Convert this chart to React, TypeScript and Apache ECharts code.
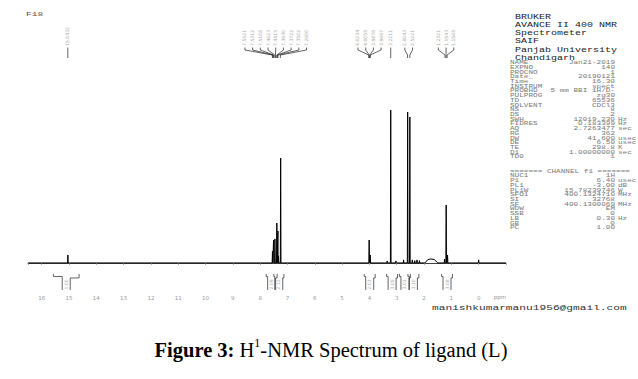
import React, { useEffect, useRef } from "react";
import * as echarts from "echarts";

// ---- spectrum data (ppm, relative intensity; tallest = 100) ----
const peakPpm = [15.04, 7.55, 7.51, 7.46, 7.39, 7.35, 7.33, 7.25, 4.01, 3.97, 3.35, 3.22, 3.03, 2.75, 2.6, 2.52, 2.43, 2.34, 2.26, 2.17, 1.25, 1.19, 1.14, 0.0];
const peakHeight = [5.2, 7.8, 15.0, 15.7, 26.1, 20.9, 4.6, 68.6, 15.0, 5.2, 1.3, 100, 1.3, 2.0, 98.7, 95.4, 2.0, 1.5, 2.0, 1.5, 2.6, 37.9, 5.2, 2.0];
const humpPpm = [1.97, 1.86, 1.75, 1.62, 1.5];
const humpInt = [0, 2.2, 2.6, 2.2, 0];

// ---- peak pick labels ----
const labelPpm = [15.0432, 7.5521, 7.5312, 7.5108, 7.4623, 7.4415, 7.393, 7.3722, 7.3502, 7.26, 4.0234, 4.0055, 3.9876, 3.9697, 3.2211, 2.6043, 2.5221, 1.2321, 1.1943, 1.1565];
const labelGroup = [0, 1, 1, 1, 1, 1, 1, 1, 1, 1, 2, 2, 2, 2, 3, 4, 4, 5, 5, 5];

// ---- integrals ----
const integralLeft = [15.57, 7.78, 7.5, 4.19, 3.37, 2.9, 2.59, 1.36];
const integralRight = [14.63, 7.38, 7.13, 3.79, 2.97, 2.5, 2.19, 0.96];
const integralCenter = [15.1, 7.58, 7.32, 3.99, 3.17, 2.7, 2.39, 1.16];
const integralValue = ["1.00", "2.09", "2.12", "2.03", "3.05", "3.01", "3.10", "3.08"];

// ---- axis ----
const xMin = -1;
const xMax = 16.5;

// ---- parameter block ----
const headerLines = ["BRUKER", "AVANCE II 400 NMR", "Spectrometer", "SAIF", "Panjab University", "Chandigarh"];
const paramNames = ["NAME", "EXPNO", "PROCNO", "Date_", "Time", "INSTRUM", "PROBHD", "PULPROG", "TD", "SOLVENT", "NS", "DS", "SWH", "FIDRES", "AQ", "RG", "DW", "DE", "TE", "D1", "TD0", "", "", "", "NUC1", "P1", "PL1", "PL1W", "SFO1", "SI", "SF", "WDW", "SSB", "LB", "GB", "PC"];
const paramValues = ["Jan21-2019", "140", "1", "20190121", "16.30", "spect", "5 mm BBI 1H/D-", "zg30", "65536", "CDCl3", "8", "2", "12019.230", "0.183399", "2.7263477", "362", "41.600", "6.50", "298.8", "1.00000000", "1", "", "", "", "1H", "6.40", "-3.00", "15.78239746", "400.1324710", "32768", "400.1300069", "EM", "0", "0.30", "0", "1.00"];
const paramUnits = ["", "", "", "", "", "", "", "", "", "", "", "", "Hz", "Hz", "sec", "", "usec", "usec", "K", "sec", "", "", "", "", "", "usec", "dB", "W", "MHz", "", "MHz", "", "", "Hz", "", ""];
const channelLine = "======= CHANNEL f1 =======";
const emailText = "manishkumarmanu1956@gmail.com";
const cornerText = "F18";

function buildTrace(): [number, number][] {
  const pts: [number, number][] = [[xMax, 0], [xMin, 0]];
  peakPpm.forEach((p, i) => {
    pts.push([p + 0.012, 0], [p, peakHeight[i]], [p - 0.012, 0]);
  });
  humpPpm.forEach((p, i) => pts.push([p, humpInt[i]]));
  pts.sort((a, b) => b[0] - a[0]);
  return pts;
}

const groupIdx: number[] = [];
const groupSize: number[] = [];
const groupCenter: number[] = [];
(() => {
  const counts: Record<number, number> = {};
  const sums: Record<number, number> = {};
  labelGroup.forEach((g, i) => {
    groupIdx.push(counts[g] || 0);
    counts[g] = (counts[g] || 0) + 1;
    sums[g] = (sums[g] || 0) + labelPpm[i];
  });
  labelGroup.forEach((g) => {
    groupSize.push(counts[g]);
    groupCenter.push(sums[g] / counts[g]);
  });
})();

export default function App() {
  const ref = useRef<HTMLDivElement>(null);

  useEffect(() => {
    if (!ref.current) return;
    const chart = echarts.init(ref.current, null, { renderer: "svg" });

    const canvas = document.createElement("canvas");
    const ctx = canvas.getContext("2d")!;
    const measure = (font: string, s: string) => {
      ctx.font = font;
      return ctx.measureText(s).width;
    };

    const mono = "Liberation Mono";
    const serif = "Liberation Serif";
    const graphics: any[] = [];
    const pFont = 7.7;
    const pFill = "#777";

    graphics.push({
      type: "text",
      x: 26,
      y: 14,
      scaleY: 0.6,
      style: { text: cornerText, fontSize: 9.5, fontFamily: mono, fill: "#555", align: "left", verticalAlign: "middle" },
    });

    headerLines.forEach((t, i) => {
      graphics.push({
        type: "text",
        x: 515,
        y: 16.5 + i * 8.2,
        scaleY: 0.8,
        style: { text: t, fontSize: 10, fontFamily: mono, fill: "#222", align: "left", verticalAlign: "middle" },
      });
    });

    const rowY = (i: number) => 63 + i * 4.72;
    paramNames.forEach((n, i) => {
      if (n) {
        graphics.push({
          type: "text", x: 510, y: rowY(i), scaleY: 0.58,
          style: { text: n, fontSize: pFont, fontFamily: mono, fill: pFill, align: "left", verticalAlign: "middle" },
        });
      }
      if (paramValues[i]) {
        graphics.push({
          type: "text", x: 615, y: rowY(i), scaleY: 0.58,
          style: { text: paramValues[i], fontSize: pFont, fontFamily: mono, fill: pFill, align: "right", verticalAlign: "middle" },
        });
      }
      if (paramUnits[i]) {
        graphics.push({
          type: "text", x: 618, y: rowY(i), scaleY: 0.58,
          style: { text: paramUnits[i], fontSize: pFont, fontFamily: mono, fill: pFill, align: "left", verticalAlign: "middle" },
        });
      }
    });
    graphics.push({
      type: "text", x: 510, y: rowY(23), scaleY: 0.58,
      style: { text: channelLine, fontSize: pFont, fontFamily: mono, fill: pFill, align: "left", verticalAlign: "middle" },
    });

    graphics.push({
      type: "text", x: 432, y: 308, scaleY: 0.65,
      style: { text: emailText, fontSize: 11.2, fontFamily: mono, fill: "#333", align: "left", verticalAlign: "middle" },
    });

    graphics.push({
      type: "text", x: 500, y: 297,
      style: { text: "ppm", fontSize: 5.5, fontFamily: "DejaVu Sans", fill: "#999", align: "center", verticalAlign: "middle" },
    });

    // caption
    const fs = 20.5;
    const pieces = [
      { t: "Figure 3:", w: "bold", s: fs, dy: 0 },
      { t: " H", w: "normal", s: fs, dy: 0 },
      { t: "1", w: "normal", s: 12, dy: -7 },
      { t: "-NMR Spectrum of ligand (L)", w: "normal", s: fs, dy: 0 },
    ];
    const widths = pieces.map((p) => measure(`${p.w} ${p.s}px "${serif}"`, p.t));
    const total = widths.reduce((a, b) => a + b, 0);
    let cx = 331 - total / 2;
    pieces.forEach((p, i) => {
      graphics.push({
        type: "text", x: cx, y: 350 + p.dy,
        style: { text: p.t, fontSize: p.s, fontWeight: p.w, fontFamily: serif, fill: "#000", align: "left", verticalAlign: "middle" },
      });
      cx += widths[i];
    });

    const yv = (px: number) => (263 - px) / 1.529;

    const option: any = {
      animation: false,
      backgroundColor: "#fff",
      grid: { left: 28, right: 132, top: 110, bottom: 87 },
      xAxis: {
        type: "value",
        min: xMin,
        max: xMax,
        interval: 1,
        inverse: true,
        splitLine: { show: false },
        axisLine: { lineStyle: { color: "#444", width: 1 } },
        axisTick: { length: 2, lineStyle: { color: "#aaa" } },
        axisLabel: {
          fontSize: 5.5,
          color: "#999",
          margin: 3,
          fontFamily: "DejaVu Sans",
          formatter: (v: number) => (v === -1 || v % 1 !== 0 ? "" : String(v)),
        },
      },
      yAxis: { type: "value", min: -19, max: 100, show: false },
      graphic: { elements: graphics },
      series: [
        {
          type: "line",
          data: buildTrace(),
          showSymbol: false,
          symbol: "none",
          lineStyle: { color: "#000", width: 1 },
          silent: true,
          z: 3,
        },
        {
          type: "custom",
          data: labelPpm.map((p, i) => [p, labelGroup[i]]),
          silent: true,
          renderItem: (params: any, api: any) => {
            const i = params.dataIndex;
            const ppm = api.value(0);
            const px = api.coord([ppm, 0])[0];
            const cxg = api.coord([groupCenter[i], 0])[0];
            const lx = groupSize[i] === 1 ? px : cxg + (groupIdx[i] - (groupSize[i] - 1) / 2) * 7.7;
            return {
              type: "group",
              children: [
                {
                  type: "text",
                  x: lx,
                  y: 46,
                  rotation: Math.PI / 2,
                  style: {
                    text: labelPpm[i].toFixed(4),
                    fontSize: 4.6,
                    fontFamily: "DejaVu Sans",
                    fill: "#aaa",
                    align: "left",
                    verticalAlign: "middle",
                  },
                },
                {
                  type: "polyline",
                  shape: { points: [[lx, 47.5], [lx, 50], [px, 55], [px, 58]] },
                  style: { stroke: "#222", lineWidth: 0.7, fill: "none" },
                },
              ],
            };
          },
        },
        {
          type: "custom",
          data: integralCenter.map((c, i) => [c, i]),
          silent: true,
          renderItem: (params: any, api: any) => {
            const i = params.dataIndex;
            const xc = api.coord([integralCenter[i], 0])[0];
            const xl = api.coord([integralLeft[i], 0])[0];
            const xr = api.coord([integralRight[i], 0])[0];
            const yTick = api.coord([0, yv(274)])[1];
            const yArmL = api.coord([0, yv(276.5)])[1];
            const yArmR = api.coord([0, yv(278)])[1];
            const yBot = api.coord([0, yv(290)])[1];
            return {
              type: "group",
              children: [
                {
                  type: "polyline",
                  shape: { points: [[xl, yTick], [xl, yArmL], [xc - 4, yArmL], [xc - 4, yBot]] },
                  style: { stroke: "#222", lineWidth: 0.7, fill: "none" },
                },
                {
                  type: "polyline",
                  shape: { points: [[xc + 4, yBot], [xc + 4, yArmR], [xr, yArmR], [xr, yTick]] },
                  style: { stroke: "#222", lineWidth: 0.7, fill: "none" },
                },
                {
                  type: "text",
                  x: xc,
                  y: 289.5,
                  rotation: Math.PI / 2,
                  style: {
                    text: integralValue[i],
                    fontSize: 4.6,
                    fontFamily: "DejaVu Sans",
                    fill: "#aaa",
                    align: "left",
                    verticalAlign: "middle",
                  },
                },
              ],
            };
          },
        },
      ],
    };

    chart.setOption(option);
    return () => chart.dispose();
  }, []);

  return (
    <div
      ref={ref}
      style={{ position: "absolute", left: 0, top: 0, width: 638, height: 379, background: "#fff" }}
    />
  );
}
